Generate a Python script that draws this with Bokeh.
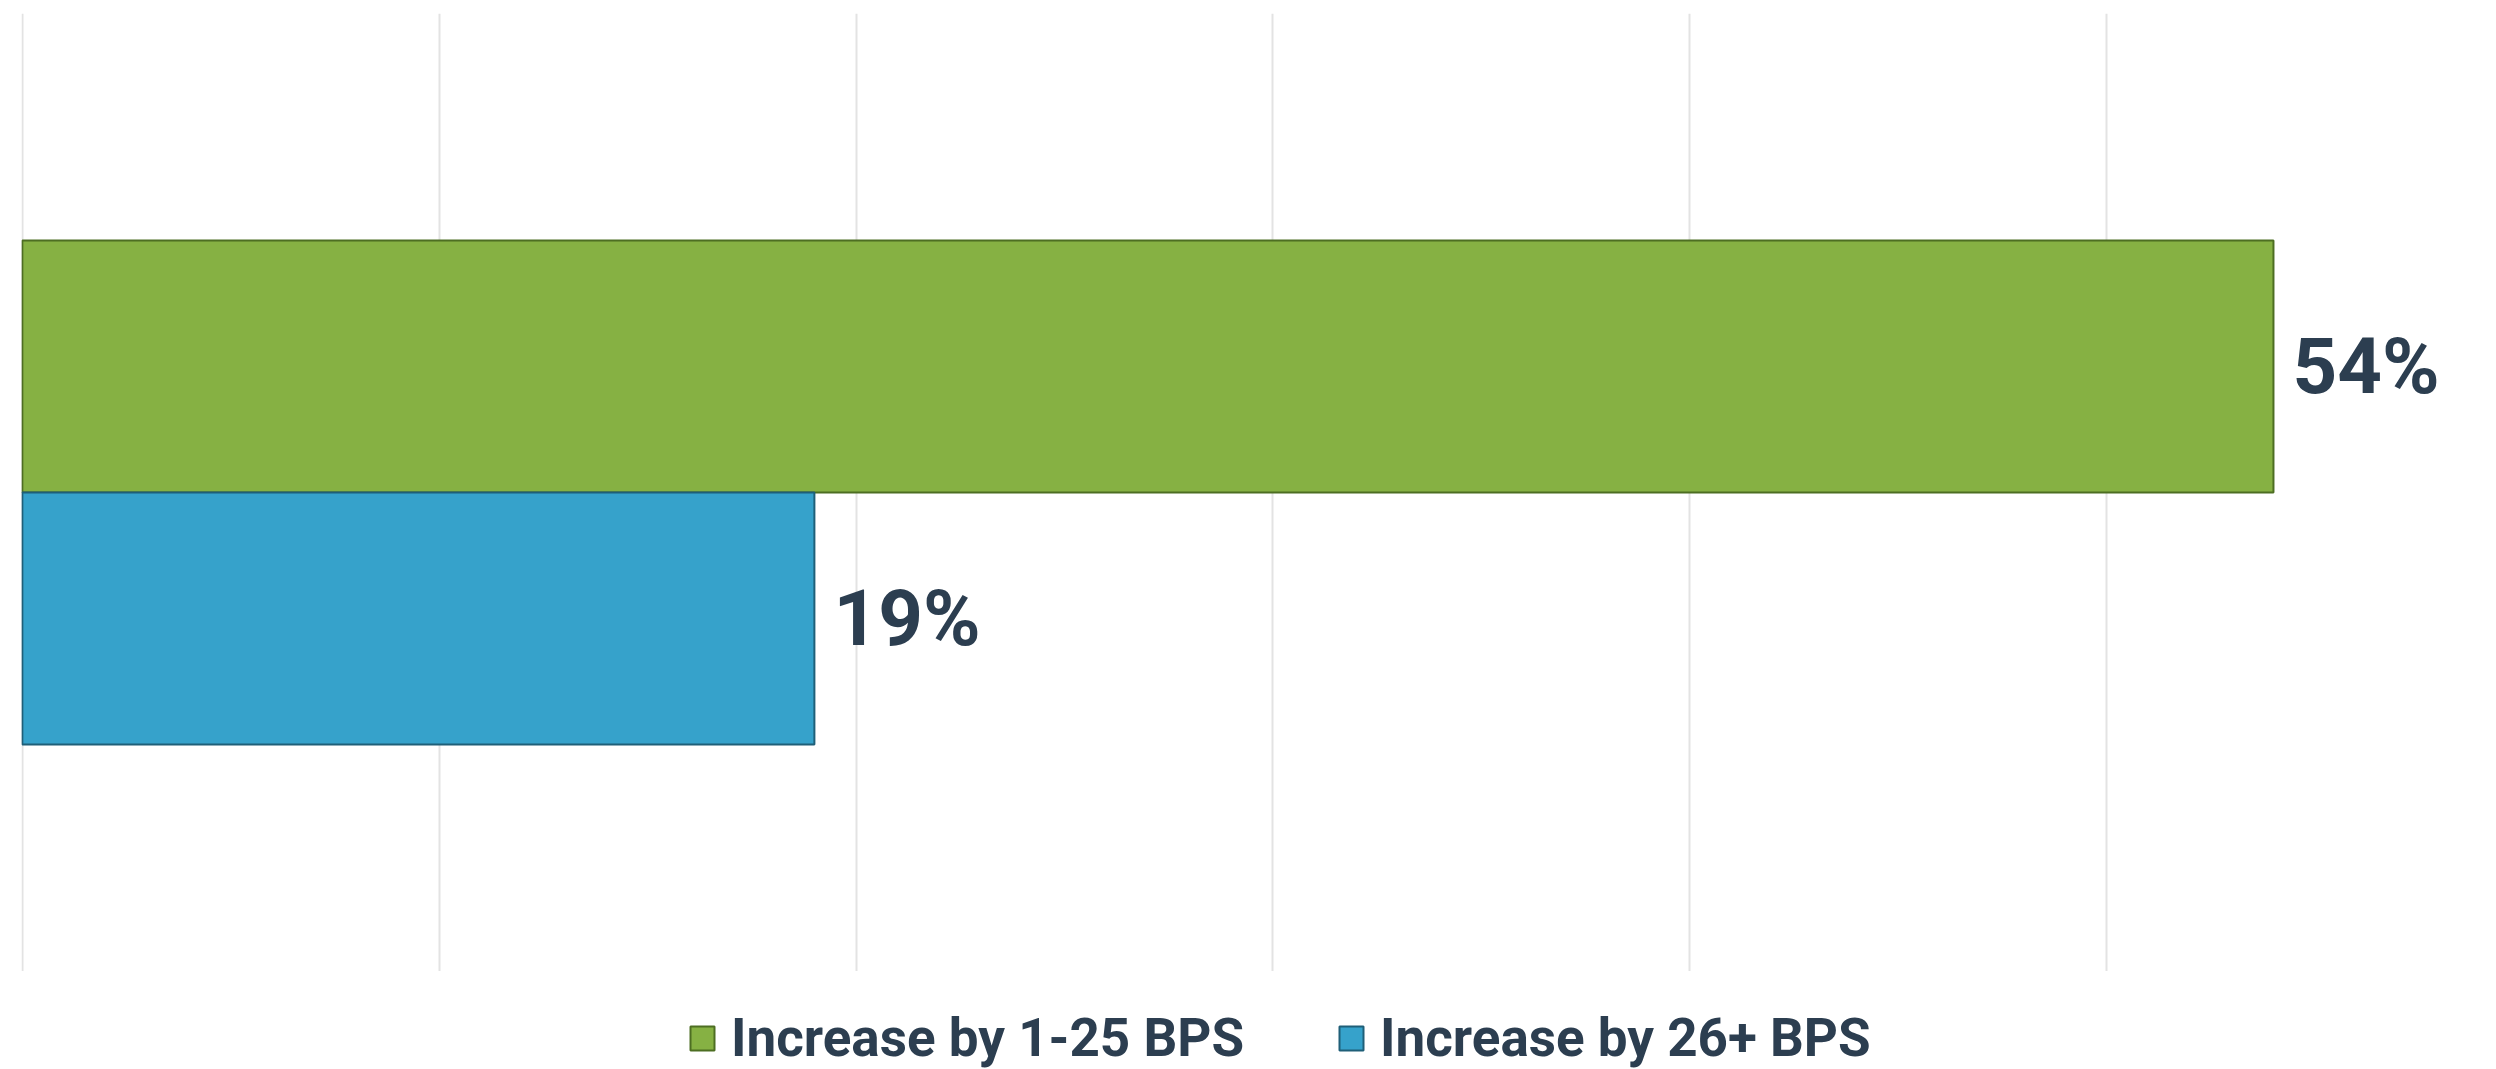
from bokeh.plotting import figure
from bokeh.layouts import column
from bokeh.models import FactorRange, Range1d, SingleIntervalTicker, Legend, LegendItem, ColumnDataSource
from bokeh.core.properties import value
from bokeh.embed import file_html
from bokeh.resources import INLINE

series = ["Increase by 1-25 BPS", "Increase by 26+ BPS"]
values = [54, 19]
labels = ["54%", "19%"]
fills = ["#86b143", "#36a2cb"]
lines = ["#4d6e22", "#1f5f78"]

W = 2496
order = list(reversed(series))  # first factor drawn at bottom

p = figure(width=W, height=971, output_backend="svg", toolbar_location=None,
           y_range=FactorRange(factors=order, range_padding=0.9),
           x_range=Range1d(-0.02, 59.35),
           min_border_left=21, min_border_right=0, min_border_top=13, min_border_bottom=0)
p.outline_line_color = None
p.background_fill_color = "white"
p.border_fill_color = "white"

src = ColumnDataSource(dict(series=series, values=values, labels=labels))

for i, s in enumerate(series):
    p.hbar(y=[s], right=[values[i]], left=0, height=1.0,
           fill_color=fills[i], line_color=lines[i], line_width=2)

p.text(x="values", y="series", text="labels", source=src, x_offset=19,
       text_baseline="middle", text_align="left",
       text_font=value("Roboto"), text_font_style="bold", text_font_size="78px",
       text_color="#2c3e50")

p.xaxis.ticker = SingleIntervalTicker(interval=10)
p.xaxis.visible = False
p.yaxis.visible = False
p.xgrid.grid_line_color = "#e3e3e3"
p.xgrid.grid_line_width = 2
p.ygrid.grid_line_color = None

# legend strip below the chart (swatch renderers sit outside the visible range)
lg = figure(width=W, height=98, output_backend="svg", toolbar_location=None,
            x_range=Range1d(0, 1), y_range=Range1d(0, 1),
            x_axis_location=None, y_axis_location=None,
            min_border_left=0, min_border_right=0, min_border_top=0, min_border_bottom=0)
lg.outline_line_color = None
lg.grid.visible = False
swatches = []
for i, s in enumerate(series):
    swatches.append(lg.hbar(y=[-50], left=[200], right=[201], height=1.0,
                            fill_color=fills[i], line_color=lines[i], line_width=2))

legend = Legend(items=[LegendItem(label=series[i], renderers=[swatches[i]]) for i in range(2)],
                orientation="horizontal", location=(666, 0),
                label_text_font="Roboto", label_text_font_style="bold",
                label_text_font_size="53px", label_text_color="#2c3e50",
                label_text_baseline="middle", label_height=30,
                glyph_width=30, glyph_height=30, spacing=92, label_standoff=14,
                border_line_color=None, background_fill_alpha=0, padding=0, margin=0)
lg.add_layout(legend, "center")

open("out.html", "w").write(file_html(column(p, lg, spacing=0), INLINE))
